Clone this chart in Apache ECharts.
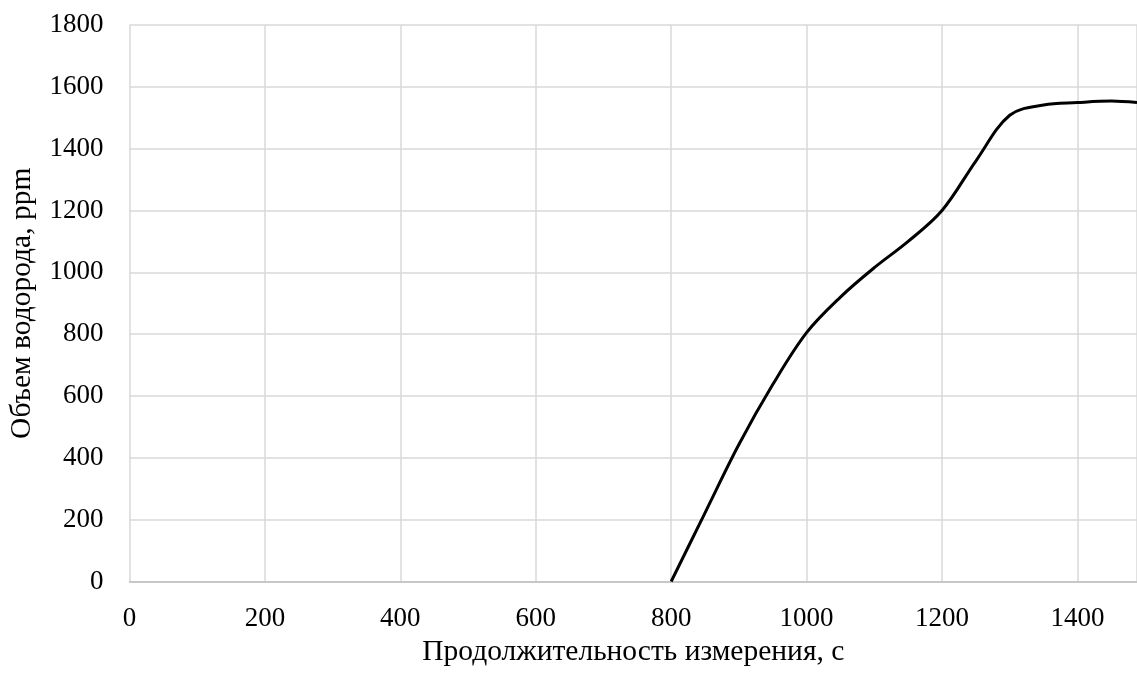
<!DOCTYPE html>
<html>
  <head>
    <meta charset="UTF-8" />
    <title>Объем водорода</title>
    <script src="https://cdn.jsdelivr.net/npm/echarts@6.0.0/dist/echarts.min.js"></script>
  </head>
  <body style="margin: 0">
    <div id="chart" style="width: 1137px; height: 675px"></div>
  </body>
  <script>
    // time, s
    const times = [800, 850, 900, 950, 1000, 1050, 1100, 1150, 1200, 1250, 1300, 1350, 1400, 1450, 1488];
    // hydrogen volume, ppm
    const volumes = [0, 222, 443, 637, 805, 920, 1015, 1100, 1200, 1360, 1508, 1541, 1549, 1554, 1549];

    const xTicks = [0, 200, 400, 600, 800, 1000, 1200, 1400];
    const yTicks = [0, 200, 400, 600, 800, 1000, 1200, 1400, 1600, 1800];

    let myChart = echarts.init(document.getElementById("chart"));
    const font = "Liberation Serif";

    myChart.setOption({
      animation: false,
      grid: { left: 129.5, right: 0, top: 25, bottom: 93.5, containLabel: false, outerBoundsMode: "none" },
      xAxis: {
        type: "value",
        min: xTicks[0],
        max: 1488,
        interval: 200,
        name: "Продолжительность измерения, с",
        nameLocation: "middle",
        nameGap: 55.5,
        nameTextStyle: { fontFamily: font, fontSize: 29.5, color: "#000" },
        axisLine: { show: true, lineStyle: { color: "#bfbfbf", width: 1.5 } },
        axisTick: { show: false },
        axisLabel: { fontFamily: font, fontSize: 27, color: "#000", margin: 24, showMaxLabel: false, formatter: (v) => String(v) },
        splitLine: { show: true, lineStyle: { color: "#d9d9d9", width: 1.5 } },
      },
      yAxis: {
        type: "value",
        min: yTicks[0],
        max: yTicks[yTicks.length - 1],
        interval: 200,
        name: "Объем водорода, ppm",
        nameLocation: "middle",
        nameGap: 92.5,
        nameTextStyle: { fontFamily: font, fontSize: 29.5, color: "#000" },
        axisLine: { show: false },
        axisTick: { show: false },
        axisLabel: { fontFamily: font, fontSize: 27, color: "#000", margin: 26, formatter: (v) => String(v) },
        splitLine: { show: true, lineStyle: { color: "#d9d9d9", width: 1.5 } },
      },
      series: [
        {
          type: "line",
          data: times.map((t, i) => [t, volumes[i]]),
          smooth: 0.35,
          showSymbol: false,
          lineStyle: { color: "#000", width: 3 },
        },
      ],
    });
  </script>
</html>
